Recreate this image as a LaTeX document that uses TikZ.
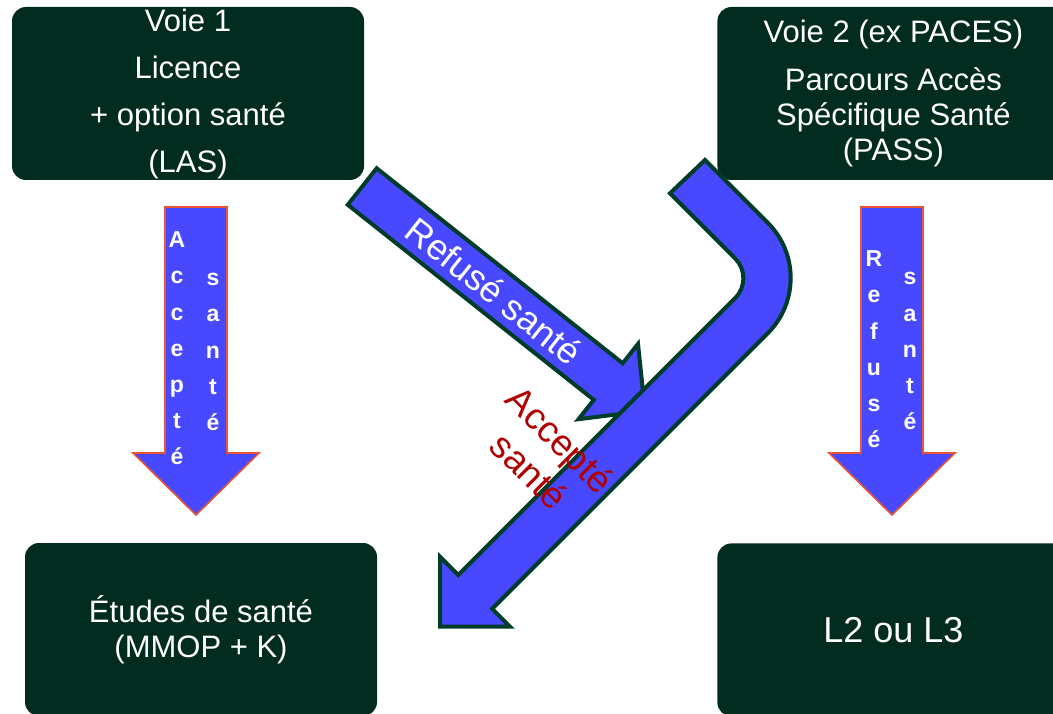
\documentclass[tikz,border=0pt]{standalone}
\usepackage{fontspec}
\setmainfont{Liberation Sans}
\usetikzlibrary{positioning}
\definecolor{boxgreen}{RGB}{2,44,31}
\definecolor{edgegreen}{RGB}{0,60,42}
\definecolor{arrowblue}{RGB}{72,72,255}
\definecolor{edgeorange}{RGB}{232,84,52}
\definecolor{accred}{RGB}{176,0,0}
\tikzset{
voie/.style={fill=boxgreen,rounded corners=14pt,minimum width=352pt,
    minimum height=173pt,inner sep=0pt,text=white,align=center,
    font=\fontsize{31}{47}\selectfont},
bigarrow/.style={fill=arrowblue,draw=edgegreen,line width=4pt,line join=miter},
downarrow/.style={fill=arrowblue,draw=edgeorange,line width=1.6pt},
letter/.style={text=white,font=\bfseries\fontsize{23}{23}\selectfont,
    inner sep=0pt,anchor=base},
}

\begin{document}
\begin{tikzpicture}[x={(1pt,0pt)},y={(0pt,-1pt)}]

    \useasboundingbox (0,0) rectangle (1053,714);
    \clip (0,0) rectangle (1053,714);

    % the four boxes
    \node[voie] (voie1) at (188,93.5)
        {Voie 1\\Licence\\+ option santé\\(LAS)};
    \node[voie,font=\fontsize{31}{35}\selectfont] (voie2) [right=353pt of voie1]
        {Voie 2 (ex PACES)\\[13pt]Parcours Accès\\Spécifique Santé\\(PASS)};
    \node[voie,font=\fontsize{31}{35}\selectfont] (etudes) at (201,629.5)
        {Études de santé\\(MMOP + K)};
    \node[voie,font=\fontsize{36}{40}\selectfont] (l2l3) [below=363pt of voie2]
        {L2 ou L3};

    % straight arrows
    \draw[downarrow] (165,207) -- (227,207) -- (227,453) -- (259,453)
        -- (196,515) -- (133,453) -- (165,453) -- cycle;
    \draw[downarrow] (861,207) -- (923,207) -- (923,453) -- (955,453)
        -- (892,515) -- (829,453) -- (861,453) -- cycle;

    \foreach \ch [count=\i] in {A,c,c,e,p,t,é}
        \node[letter] (accl\i) at (177,212+36*\i) {\ch};
    \foreach \ch [count=\i] in {s,a,n,t,é}
        \node[letter] (accr\i) at (213,250+36*\i) {\ch};
    \foreach \ch [count=\i] in {R,e,f,u,s,é}
        \node[letter] (refl\i) at (874,231+36*\i) {\ch};
    \foreach \ch [count=\i] in {s,a,n,t,é}
        \node[letter] (refr\i) at (910,249+36*\i) {\ch};

    % diagonal arrow, then the bent one over its tip
    \draw[bigarrow] (376.7,168.3) -- (622.7,363.3) -- (638,343.9)
        -- (645,410.8) -- (578.5,419.2) -- (593.8,399.8) -- (347.8,204.8) -- cycle;
    \draw[bigarrow] (705,160) -- (767.8,222.8)
        .. controls (798.3,253.3) and (798.3,302.7) .. (767.8,333.2)
        -- (492.2,608.8) -- (510,626.7) -- (440,626.7) -- (440,556.7)
        -- (458.3,575) -- (735.2,298.1)
        .. controls (746.1,287.2) and (746.1,269.4) .. (735.2,258.5)
        -- (670,193.3) -- cycle;

    \node[text=white,rotate=-38.4,inner sep=0pt,font=\fontsize{36}{40}\selectfont]
        (refuse) at (494,291) {Refusé santé};
    \node[text=accred,rotate=-45,inner sep=0pt,align=center,
        font=\fontsize{37}{44}\selectfont] (accepte) at (545,455) {Accepté\\santé};

\end{tikzpicture}
\end{document}
